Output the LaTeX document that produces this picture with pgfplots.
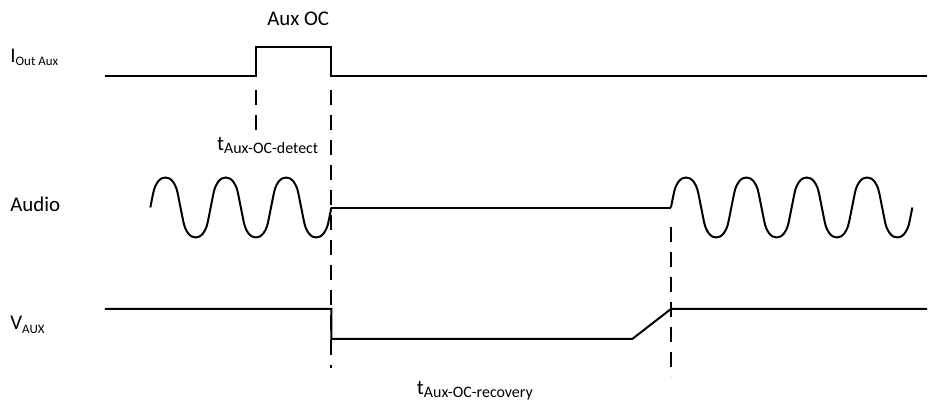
\documentclass[border=0pt]{standalone}
\usepackage{fontspec}
\setmainfont{Carlito}
\usepackage{pgfplots}
\pgfplotsset{compat=1.18}
\begin{document}
\begin{tikzpicture}
\begin{axis}[
  scale only axis, width=464bp, height=201.5bp,
  xmin=0, xmax=928, ymin=0, ymax=403, y dir=reverse,
  hide axis, clip=false, enlargelimits=false,
]
\addplot[draw=none] coordinates {(0,0) (928,403)};
% I_OutAux
\addplot[black, line width=1bp] coordinates {(105,76) (256.7,76) (256.7,46.7) (331.7,46.7) (331.7,76) (928,76)};
% Audio left wave
\addplot[black, line width=1bp, smooth] coordinates {
(150.50,207.7) (154.28,189.7) (158.05,181.9) (161.83,178.6) (165.60,177.7) (169.38,178.6) (173.15,181.9) (176.93,189.7)
(180.70,207.7) (184.48,225.7) (188.25,233.5) (192.03,236.8) (195.80,237.7) (199.58,236.8) (203.35,233.5) (207.13,225.7)
(210.90,207.7) (214.68,189.7) (218.45,181.9) (222.23,178.6) (226.00,177.7) (229.78,178.6) (233.55,181.9) (237.33,189.7)
(241.10,207.7) (244.88,225.7) (248.65,233.5) (252.43,236.8) (256.20,237.7) (259.98,236.8) (263.75,233.5) (267.53,225.7)
(271.30,207.7) (275.08,189.7) (278.85,181.9) (282.63,178.6) (286.40,177.7) (290.18,178.6) (293.95,181.9) (297.73,189.7)
(301.50,207.7) (305.28,225.7) (309.05,233.5) (312.83,236.8) (316.60,237.7) (320.38,236.8) (324.15,233.5) (327.93,225.7)
(331.70,207.7)};
% Audio flat
\addplot[black, line width=1bp] coordinates {(331.7,207.8) (671.7,207.8)};
% Audio right wave
\addplot[black, line width=1bp, smooth] coordinates {
(671.70,207.7) (675.48,189.7) (679.25,181.9) (683.03,178.6) (686.80,177.7) (690.58,178.6) (694.35,181.9) (698.13,189.7)
(701.90,207.7) (705.68,225.7) (709.45,233.5) (713.23,236.8) (717.00,237.7) (720.78,236.8) (724.55,233.5) (728.33,225.7)
(732.10,207.7) (735.88,189.7) (739.65,181.9) (743.43,178.6) (747.20,177.7) (750.98,178.6) (754.75,181.9) (758.53,189.7)
(762.30,207.7) (766.08,225.7) (769.85,233.5) (773.63,236.8) (777.40,237.7) (781.18,236.8) (784.95,233.5) (788.73,225.7)
(792.50,207.7) (796.28,189.7) (800.05,181.9) (803.83,178.6) (807.60,177.7) (811.38,178.6) (815.15,181.9) (818.93,189.7)
(822.70,207.7) (826.48,225.7) (830.25,233.5) (834.03,236.8) (837.80,237.7) (841.58,236.8) (845.35,233.5) (849.13,225.7)
(852.90,207.7) (856.68,189.7) (860.45,181.9) (864.23,178.6) (868.00,177.7) (871.78,178.6) (875.55,181.9) (879.33,189.7)
(883.10,207.7) (886.88,225.7) (890.65,233.5) (894.43,236.8) (898.20,237.7) (901.98,236.8) (905.75,233.5) (909.53,225.7)
(913.30,207.7)};
% V_AUX
\addplot[black, line width=1bp] coordinates {(105,309.3) (331.7,309.3) (331.7,339.3) (633,339.3) (671.7,309.3) (928,309.3)};
% dashed markers
\addplot[black, line width=1bp, dash pattern=on 7.5bp off 5bp] coordinates {(256.7,90) (256.7,130)};
\addplot[black, line width=1bp, dash pattern=on 7.5bp off 5bp] coordinates {(331.7,90) (331.7,368)};
\addplot[black, line width=1bp, dash pattern=on 7.5bp off 5bp] coordinates {(671.7,227) (671.7,377)};
% labels
\node[anchor=base, inner sep=0, font=\fontsize{10.5}{12}\selectfont] at (axis cs:298.5,26) {Aux OC};
\node[anchor=base west, inner sep=0, font=\fontsize{10.5}{12}\selectfont] at (axis cs:10,63) {I\raisebox{-1.5bp}{\fontsize{6.5}{7}\selectfont Out Aux}};
\node[anchor=base west, inner sep=0, font=\fontsize{10.5}{12}\selectfont] at (axis cs:10,212) {Audio};
\node[anchor=base west, inner sep=0, font=\fontsize{10.5}{12}\selectfont] at (axis cs:10,330) {V\raisebox{-2bp}{\fontsize{6.5}{7}\selectfont AUX}};
\node[anchor=base west, inner sep=0, font=\fontsize{10.5}{12}\selectfont] at (axis cs:217,151) {t\raisebox{-1.5bp}{\fontsize{8}{9}\selectfont Aux-OC-detect}};
\node[anchor=base west, inner sep=0, font=\fontsize{10.5}{12}\selectfont] at (axis cs:417,395) {t\raisebox{-1.5bp}{\fontsize{8}{9}\selectfont Aux-OC-recovery}};
\end{axis}
\end{tikzpicture}
\end{document}
